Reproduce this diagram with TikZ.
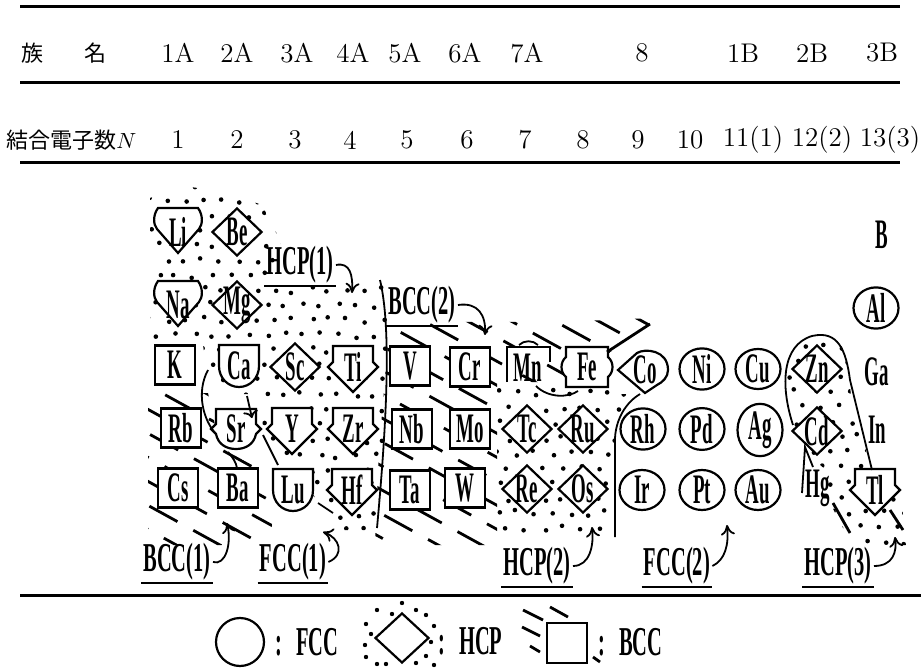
\documentclass[tikz,border=0pt]{standalone}
\usepackage{fontspec}
\usepackage{tikz}
\usetikzlibrary{arrows, arrows.meta, positioning, shapes.geometric}
\newfontfamily\jpfont{Noto Sans CJK JP}
\newfontfamily\elfont[FakeStretch=0.45]{Liberation Serif}
\newfontfamily\tagfont[FakeStretch=0.5]{Liberation Serif}
\pgfdeclarelayer{bg}
\pgfdeclarelayer{mid}
\pgfsetlayers{bg,mid,main}
\tikzset{
  head/.style={font=\fontsize{13.5}{16}\selectfont, inner sep=1pt},
  jp/.style={font=\jpfont\fontsize{11}{13}\selectfont, inner sep=1pt},
  elem/.style={font=\elfont\bfseries\fontsize{21}{23}\selectfont, inner sep=0pt},
  elline/.style={draw, fill=white, line width=1.1pt},
  fcc/.style={elem, elline, ellipse, minimum width=22.5pt, minimum height=20pt},
  hcp/.style={elem, elline, diamond, minimum width=25pt, minimum height=24pt, inner sep=-4pt},
  bcc/.style={elem, elline, rectangle, minimum width=20pt, minimum height=19.5pt},
  bound/.style={line width=0.9pt},
  bcchatch/.style={line width=1.4pt, dash pattern=on 16pt off 9pt},
  hatchbar/.style={line width=1.4pt},
  rule/.style={line width=1.5pt},
  tag/.style={font=\tagfont\bfseries\fontsize{20.5}{22}\selectfont, inner sep=1pt},
  tagarrow/.style={-{To[length=5pt, width=7pt]}, line width=0.9pt}
}
\newcommand{\alkshape}[1]{\draw[elline, shift={(#1)}] (-20,-24) -- (20,-24) .. controls (25,-17) and (25,-8) .. (21,-3) -- (0,21) -- (-21,-3) .. controls (-25,-8) and (-25,-17) .. (-20,-24) -- cycle;}
\newcommand{\pentshape}[1]{\draw[elline, shift={(#1)}] (-20,-21) -- (20,-21) -- (20,-5) -- (25,0) -- (0,25) -- (-25,0) -- (-20,-5) -- cycle;}
\newcommand{\cupshape}[1]{\draw[elline, shift={(#1)}] (-20,-21) -- (20,-21) -- (20,0) .. controls (20,12) and (11,21) .. (0,21) .. controls (-11,21) and (-20,12) .. (-20,0) -- cycle;}
\newcommand{\srshape}[1]{\draw[elline, shift={(#1)}] (-20,-20) -- (20,-20) -- (20,-5) -- (25,0) -- (20,5) .. controls (18,15) and (10,20) .. (0,20) .. controls (-10,20) and (-18,15) .. (-20,5) -- (-25,0) -- (-20,-5) -- cycle;}
\newcommand{\mnshape}[1]{\draw[elline, shift={(#1)}] (-21,14) -- (-21,-21) -- (22,-21) -- (22,-6);}
\newcommand{\feshape}[1]{\draw[elline, shift={(#1)}] (-21,-20) -- (21,-20) -- (21,-10) .. controls (27,-5) and (27,5) .. (21,10) -- (21,20) -- (-21,20) -- (-21,10) .. controls (-27,5) and (-27,-5) .. (-21,-10) -- cycle;}
\newcommand{\coshape}[1]{\draw[elline, shift={(#1)}] (-27,0) -- (-8,-17) .. controls (0,-22) and (23,-20) .. (23,0) .. controls (23,7) and (18,12) .. (12,15) -- (0,23) -- cycle;}
\newcommand{\hcpdots}[4]{%
  \pgfmathtruncatemacro\nx{(#3-#1)/18}%
  \pgfmathtruncatemacro\ny{(#4-#2)/15}%
  \foreach \j in {0,...,\ny} {
    \foreach \i in {0,...,\nx} {
      \fill ({#1+18*\i+9*mod(\j,2)+3*rand}, {#2+15*\j+3*rand}) circle (2.3);
    }
  }}
\newcommand{\bcclines}{%
  \foreach \c [evaluate=\c as \ph using {mod(\c*0.7+300,25)}] in {-80,-56,...,500}
    \draw[bcchatch, dash phase=\ph pt] (100,{55+\c}) -- (950,{522.5+\c});}

\begin{document}
\begin{tikzpicture}[x=0.5pt, y=-0.5pt]
\useasboundingbox (0,0) rectangle (921,668);
\pgfmathsetseed{11}

\draw[rule] (20,7) -- (900,7);
\draw[rule] (20,83) -- (900,83);
\draw[rule] (20,163) -- (900,163);
\draw[rule] (20,595) -- (921,595);

\node[jp] (zoku) at (32,53) {族};
\node[jp] (mei) at (95,53) {名};
\foreach \lab/\x [count=\i] in {1A/178, 2A/237, 3A/297, 4A/353, 5A/405, 6A/465, 7A/527, 8/642, 1B/743, 2B/812, 3B/882}
  \node[head] (grp\i) at (\x,53) {\lab};
\node[jp, anchor=west] (nbond) at (4,140) {結合電子数$N$};
\foreach \lab/\x [count=\i] in {1/178, 2/237, 3/295, 4/350, 5/407, 6/467, 7/525, 8/583, 9/638, 10/690, 11(1)/753, 12(2)/822, 13(3)/890}
  \node[head] (nb\i) at (\x,140) {\lab};

\node[elem] (Li) at (178,232) {Li};
\node[hcp] (Be) at (237,232) {Be};
\node[elem] (B) at (882,235) {B};
\node[elem] (Na) at (178,305) {Na};
\node[hcp] (Mg) at (237,305) {Mg};
\node[fcc] (Al) at (876,308) {Al};

\node[bcc] (K) at (175,365) {K};
\node[elem] (Ca) at (239,366) {Ca};
\node[hcp] (Sc) at (295,367) {Sc};
\node[elem] (Ti) at (353,367) {Ti};
\node[bcc] (V) at (410,366) {V};
\node[bcc] (Cr) at (470,367) {Cr};
\node[elem] (Mn) at (528,368) {Mn};
\node[elem] (Fe) at (587,367) {Fe};
\node[elem] (Co) at (645,370) {Co};
\node[fcc] (Ni) at (702,369) {Ni};
\node[fcc] (Cu) at (758,369) {Cu};
\node[hcp] (Zn) at (817,369) {Zn};
\node[elem] (Ga) at (877,372) {Ga};

\node[bcc] (Rb) at (181,428) {Rb};
\node[elem] (Sr) at (236,429) {Sr};
\node[elem] (Y) at (292,429) {Y};
\node[elem] (Zr) at (353,429) {Zr};
\node[bcc] (Nb) at (412,429) {Nb};
\node[bcc] (Mo) at (470,429) {Mo};
\node[hcp] (Tc) at (527,429) {Tc};
\node[hcp] (Ru) at (583,429) {Ru};
\node[fcc] (Rh) at (643,429) {Rh};
\node[fcc] (Pd) at (702,429) {Pd};
\node[fcc] (Ag) at (760,430) {Ag};
\node[hcp] (Cd) at (817,431) {Cd};
\node[elem] (In) at (877,430) {In};

\node[bcc] (Cs) at (178,488) {Cs};
\node[bcc] (Ba) at (238,488) {Ba};
\node[elem] (Lu) at (293,490) {Lu};
\node[elem] (Hf) at (352,490) {Hf};
\node[bcc] (Ta) at (410,490) {Ta};
\node[bcc] (W) at (465,488) {W};
\node[hcp] (Re) at (527,489) {Re};
\node[hcp] (Os) at (583,489) {Os};
\node[fcc] (Ir) at (642,490) {Ir};
\node[fcc] (Pt) at (702,490) {Pt};
\node[fcc] (Au) at (758,490) {Au};
\node[elem] (Hg) at (818,488) {Hg};
\node[elem] (Tl) at (875,490) {Tl};

\begin{pgfonlayer}{mid}
  \alkshape{Li} \alkshape{Na}
  \cupshape{Ca} \cupshape{Lu}
  \srshape{Sr}
  \pentshape{Ti} \pentshape{Y} \pentshape{Zr} \pentshape{Hf} \pentshape{Tl}
  \mnshape{Mn} \feshape{Fe} \coshape{Co}
\end{pgfonlayer}

\begin{pgfonlayer}{bg}
  \begin{scope}
    \clip (150,198) -- (185,186) -- (228,193) -- (262,205) -- (280,240) -- (280,262) -- (268,281) -- (386,281) -- (389,330) -- (384,420) -- (378,530) -- (342,530) -- (333,513) -- (318,500) -- (280,468) -- (263,438) -- (262,402) -- (248,394) -- (226,394) -- (208,380) -- (203,345) -- (150,345) -- cycle;
    \hcpdots{140}{185}{395}{540}
  \end{scope}
  \begin{scope}
    \clip (497,382) -- (606,382) -- (612,394) -- (640,394) -- (622,410) -- (616,440) -- (615,537) -- (497,537) -- cycle;
    \hcpdots{490}{378}{650}{540}
  \end{scope}
  \begin{scope}
    \clip (793,425) -- (786,370) -- (795,343) -- (815,335) -- (838,337) -- (846,357) -- (853,410) -- (872,470) -- (902,505) -- (906,545) -- (852,545) -- (830,503) -- (826,470) -- (812,458) -- (800,445) -- cycle;
    \hcpdots{778}{332}{912}{548}
  \end{scope}
  \begin{scope}
    \clip (148,393) -- (208,393) -- (215,425) -- (228,452) -- (262,470) -- (272,525) -- (268,545) -- (148,545) -- cycle;
    \bcclines
  \end{scope}
  \begin{scope}
    \clip (386,322) -- (560,322) -- (652,318) -- (652,328) -- (610,352) -- (606,382) -- (497,382) -- (497,545) -- (375,545) -- (379,450) -- (389,330) -- cycle;
    \bcclines
  \end{scope}
\end{pgfonlayer}

\draw[bound] (380,280) .. controls (392,330) and (386,430) .. (377,528);
\draw[bound] (640,394) .. controls (622,405) and (615,425) .. (615,440) -- (615,537);
\draw[bound] (793,425) .. controls (780,385) and (782,345) .. (812,336) .. controls (838,330) and (846,350) .. (850,380) -- (872,470);
\draw[bound] (208,370) .. controls (196,392) and (203,420) .. (216,434);
\draw[bound, ->] (247,396) -- (252,418);
\draw[bound] (228,452) .. controls (233,458) and (236,462) .. (237,468);
\draw[bound] (263,435) -- (278,465);
\draw[bound] (318,503) -- (333,513);
\draw[bound] (536,386) .. controls (548,398) and (568,398) .. (578,391);
\draw[bound] (519,345) .. controls (524,340) and (533,340) .. (538,345);
\draw[hatchbar] (607,352) -- (650,324);
\draw[bound] (802,493) -- (805,447) -- (813,467);
\draw[hatchbar] (833,503) -- (850,533);
\draw[hatchbar] (890,510) -- (903,530);

\node[tag] (hcpA) at (300,265) {HCP(1)};
\node[tag] (bccB) at (422,305) {BCC(2)};
\node[tag] (bccA) at (177,562) {BCC(1)};
\node[tag] (fccA) at (293,562) {FCC(1)};
\node[tag] (hcpB) at (537,566) {HCP(2)};
\node[tag] (fccB) at (677,566) {FCC(2)};
\node[tag] (hcpC) at (838,566) {HCP(3)};
\foreach \t in {hcpA, bccB, bccA, fccA, hcpB, fccB, hcpC}
  \draw[line width=1.3pt] (\t.south west) -- (\t.south east);

\coordinate (hcpAend) at (352,293);
\coordinate (bccBend) at (485,335);
\coordinate (bccAend) at (227,523);
\coordinate (fccAend) at (323,532);
\coordinate (hcpBend) at (592,527);
\coordinate (fccBend) at (727,525);
\coordinate (hcpCend) at (895,537);
\draw[tagarrow] (hcpA.east) .. controls (350,262) and (353,275) .. (hcpAend);
\draw[tagarrow] (bccB.east) .. controls (478,302) and (486,315) .. (bccBend);
\draw[tagarrow] (bccA.east) .. controls (225,566) and (232,545) .. (bccAend);
\draw[tagarrow] (fccA.east) .. controls (345,555) and (340,538) .. (fccAend);
\draw[tagarrow] (hcpB.east) .. controls (590,566) and (594,545) .. (hcpBend);
\draw[tagarrow] (fccB.east) .. controls (725,560) and (729,545) .. (fccBend);
\draw[tagarrow] (hcpC.east) .. controls (893,566) and (897,552) .. (hcpCend);

\node[fcc, minimum width=24pt, minimum height=24pt] (lfcc) at (240,642) {};
\node[tag, anchor=west] (lfcct) at (273,642) {:\hspace{7pt}FCC};
\foreach \p in {(377,610), (392,614), (402,603), (416,610), (426,615), (366,624), (371,634), (365,645), (434,626), (431,642), (366,657), (377,664), (416,663), (426,656), (434,665), (386,664)}
  \fill \p circle (2.2);
\node[hcp, minimum width=27pt, minimum height=25pt] (lhcp) at (402,638) {};
\node[tag, anchor=west] (lhcpt) at (436,641) {:\hspace{7pt}HCP};
\draw[hatchbar] (523,610) -- (543,620);
\draw[hatchbar] (550,607) -- (568,617);
\draw[hatchbar] (522,627) -- (540,636);
\draw[hatchbar] (530,646) -- (540,652);
\draw[hatchbar] (593,657) -- (600,662);
\node[bcc, minimum width=20pt, minimum height=20pt] (lbcc) at (567,643) {};
\node[tag, anchor=west] (lbcct) at (596,642) {:\hspace{7pt}BCC};
\end{tikzpicture}
\end{document}
